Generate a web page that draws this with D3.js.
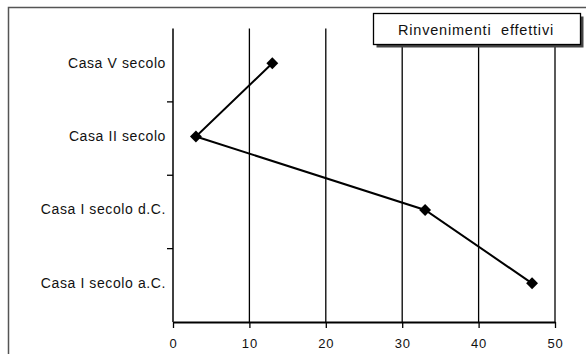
<!DOCTYPE html>
<html>
<head>
<meta charset="utf-8">
<script src="https://cdn.jsdelivr.net/npm/d3@7"></script>
<style>
  html, body { margin: 0; padding: 0; background: #fff; }
  svg { display: block; font-family: "Liberation Sans", Arial, sans-serif; }
</style>
</head>
<body>
<svg id="chart" width="586" height="354"></svg>
<script>
// Categories listed top to bottom
const categories = ["Casa V secolo", "Casa II secolo", "Casa I secolo d.C.", "Casa I secolo a.C."];
// Number of finds per house
const values = [13, 3, 33, 47];
const xTicks = [0, 10, 20, 30, 40, 50];
const seriesName = "Rinvenimenti  effettivi";

const svg = d3.select("#chart");

// Outer frame (top and left edges)
svg.append("path")
  .attr("d", "M8.5,354 V7.5 H586")
  .attr("fill", "none")
  .attr("stroke", "#555")
  .attr("stroke-width", 1.5);

const plotLeft = 173, plotRight = 555, plotTop = 28.5, plotBottom = 322;

const x = d3.scaleLinear().domain([0, 50]).range([plotLeft, plotRight]);
const y = d3.scaleBand().domain(categories).range([plotTop, plotBottom]);

// Vertical gridlines
svg.append("g")
  .selectAll("line")
  .data(xTicks.slice(1))
  .join("line")
  .attr("x1", d => x(d)).attr("x2", d => x(d))
  .attr("y1", plotTop).attr("y2", plotBottom)
  .attr("stroke", "#000").attr("stroke-width", 1.3);

// Bottom axis
const xAxis = svg.append("g")
  .attr("transform", `translate(0,${plotBottom})`)
  .call(d3.axisBottom(x).tickValues(xTicks).tickSize(6).tickSizeOuter(0).tickPadding(11));
xAxis.select(".domain").attr("stroke", "#000").attr("stroke-width", 2.2);
xAxis.selectAll(".tick line").attr("stroke", "#000").attr("stroke-width", 1.3);
xAxis.selectAll(".tick text")
  .attr("font-size", 13)
  .attr("letter-spacing", "0.8px")
  .attr("fill", "#111")
  .attr("font-family", "Liberation Sans, Arial, sans-serif");

// Left axis: ticks at band boundaries, labels at band centres
const boundaries = [0, 1, 2, 3].map(i => plotTop + i * y.step());
svg.append("line")
  .attr("x1", plotLeft).attr("x2", plotLeft).attr("y1", plotTop).attr("y2", plotBottom)
  .attr("stroke", "#000").attr("stroke-width", 1.5);
svg.append("g").selectAll("line")
  .data(boundaries.slice(1))
  .join("line")
  .attr("x1", plotLeft - 6).attr("x2", plotLeft)
  .attr("y1", d => d).attr("y2", d => d)
  .attr("stroke", "#000").attr("stroke-width", 1.3);
svg.append("g").selectAll("text")
  .data(categories)
  .join("text")
  .attr("x", 166)
  .attr("y", d => y(d) + y.bandwidth() / 2 - 2.5)
  .attr("dy", "0.35em")
  .attr("text-anchor", "end")
  .attr("font-size", 14)
  .attr("letter-spacing", "0.6px")
  .attr("fill", "#111")
  .text(d => d);

// Data line
const pts = categories.map((c, i) => [x(values[i]), y(c) + y.bandwidth() / 2 - 2]);
svg.append("path")
  .attr("d", d3.line()(pts))
  .attr("fill", "none")
  .attr("stroke", "#000")
  .attr("stroke-width", 2);

// Diamond markers
svg.append("g").selectAll("path")
  .data(pts)
  .join("path")
  .attr("transform", d => `translate(${d[0]},${d[1]})`)
  .attr("d", d3.symbol(d3.symbolDiamond2, 90)())
  .attr("fill", "#000");

// Legend box with drop shadow
const lg = svg.append("g");
lg.append("rect")
  .attr("x", 376.5).attr("y", 16.5).attr("width", 207).attr("height", 31)
  .attr("fill", "#444");
lg.append("rect")
  .attr("x", 373.5).attr("y", 13.5).attr("width", 207).attr("height", 31)
  .attr("fill", "#fff").attr("stroke", "#000").attr("stroke-width", 1.3);
lg.append("text")
  .attr("x", 476).attr("y", 30)
  .attr("dy", "0.35em")
  .attr("text-anchor", "middle")
  .attr("font-size", 14.5)
  .attr("letter-spacing", "0.8px")
  .attr("fill", "#111")
  .style("white-space", "pre")
  .text(seriesName);
</script>
</body>
</html>
